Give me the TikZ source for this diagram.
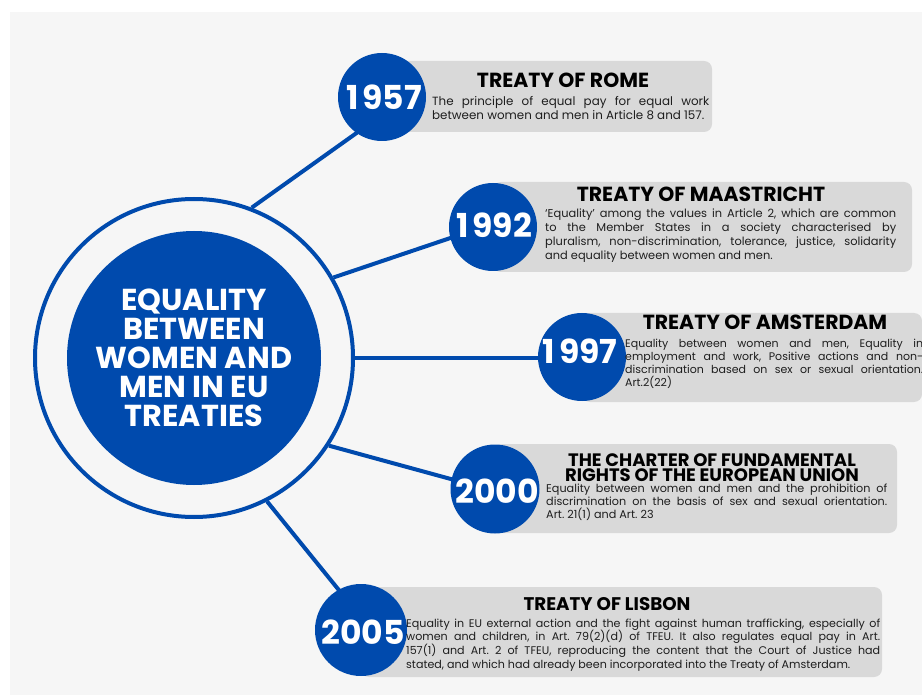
\documentclass[tikz,border=0pt]{standalone}
\usepackage{fontspec}
\setmainfont{Poppins}
\definecolor{eublue}{HTML}{004AAD}
\definecolor{panelgray}{HTML}{D9D9D9}
\definecolor{pagebg}{HTML}{F6F6F6}
\definecolor{bodyink}{HTML}{1E1E1E}
% one justified line of a fixed-width paragraph
\newcommand{\justline}[1]{\makebox[\linewidth][s]{#1}\\}
% a digit one set as wide as the other figures
\newcommand{\wideone}{\makebox[0.62em][c]{1}}
\frenchspacing
\begin{document}
\begin{tikzpicture}[x=1pt,y=-1pt,
  conn/.style={draw=eublue, line width=4pt},
  yearc/.style={circle, fill=eublue, minimum size=88pt, inner sep=0pt},
  yeartxt/.style={text=white, font=\bfseries\fontsize{33}{33}\selectfont, inner sep=0pt},
  panel/.style={fill=panelgray, rounded corners=8pt},
  ttl/.style={font=\bfseries\fontsize{20.4}{15}\selectfont, inner sep=0pt, anchor=base, text=black},
  body/.style={inner sep=0pt, anchor=base west, text=bodyink}]
\useasboundingbox (0,0) rectangle (922,695);
\clip (0,0) rectangle (922,695);
\fill[pagebg] (10,12) rectangle (922,695);

% hub: ring and filled core
\node[circle, draw=eublue, line width=4pt, minimum size=318pt] (ring) at (194,358) {};

% hidden end points of the spokes, inside the year discs
\coordinate (t1) at (372,122);
\coordinate (t2) at (480,228);
\coordinate (t3) at (582,358);
\coordinate (t4) at (480,487);
\coordinate (t5) at (355,610);

\draw[conn] (ring.69.7) -- (t1);
\draw[conn] (ring.30.4) -- (t2);
\draw[conn] (ring.0) -- (t3);
\draw[conn] (ring.-33.2) -- (t4);
\draw[conn] (ring.-63.1) -- (t5);

\node[circle, fill=eublue, minimum size=254pt, inner sep=0pt, align=center,
      text=white, font=\bfseries\fontsize{30.3}{29}\selectfont] (core) at (194,358)
  {EQUALITY\\BETWEEN\\WOMEN AND\\MEN IN EU\\TREATIES};

% panels
\fill[panel] (382,61) rectangle (712,132);
\fill[panel] (493,182) rectangle (912,272);
\fill[panel] (582,313) rectangle (922,402);
\fill[panel] (495,444) rectangle (897,533);
\fill[panel] (361,587) rectangle (882,677);

% year discs
\node[yearc] (c1) at (382,97) {};
\node[yearc] (c2) at (493,227) {};
\node[yearc] (c3) at (582,357) {};
\node[yearc, minimum size=89pt] (c4) at (495,489) {};
\node[yearc, minimum size=92pt] (c5) at (361,630) {};

\node[yeartxt] (y1) at (382,97) {\wideone957};
\node[yeartxt] (y2) at (492,225) {\wideone992};
\node[yeartxt] (y3) at (578,351) {\wideone997};
\node[yeartxt] (y4) at (497,491) {2000};
\node[yeartxt] (y5) at (363,632) {2005};

% headings
\node[ttl] (h1) at (563,88) {TREATY OF ROME};
\node[ttl] (h2) at (701,202) {TREATY OF MAASTRICHT};
\node[ttl] (h3) at (765,330) {TREATY OF AMSTERDAM};
\node[ttl, font=\bfseries\fontsize{18}{15}\selectfont] (h4) at (712,466)
  {\parbox[t]{330pt}{\centering THE CHARTER OF FUNDAMENTAL\\RIGHTS OF THE EUROPEAN UNION}};
\node[ttl, font=\bfseries\fontsize{18.3}{15}\selectfont] (h5) at (607,610) {TREATY OF LISBON};

% descriptions
\node[body] (b1) at (432,106) {\parbox[t]{277pt}{\fontsize{11.9}{13.5}\selectfont
  \justline{The principle of equal pay for equal work}
  between women and men in Article 8 and 157.}};
\node[body] (b2) at (545,218) {\parbox[t]{351pt}{\fontsize{11.4}{14}\selectfont
  \justline{‘Equality’ among the values in Article 2, which are common}
  \justline{to the Member States in a society characterised by}
  \justline{pluralism, non-discrimination, tolerance, justice, solidarity}
  and equality between women and men.}};
\node[body] (b3) at (625,348) {\parbox[t]{298pt}{\fontsize{11}{13}\selectfont
  \justline{Equality between women and men, Equality in}
  \justline{employment and work, Positive actions and non-}
  \justline{discrimination based on sex or sexual orientation.}
  Art.2(22)}};
\node[body] (b4) at (546,492) {\parbox[t]{341pt}{\fontsize{11.2}{13}\selectfont
  \justline{Equality between women and men and the prohibition of}
  \justline{discrimination on the basis of sex and sexual orientation.}
  Art. 21(1) and Art. 23}};
\node[body] (b5) at (406,627) {\parbox[t]{474pt}{\fontsize{11.1}{13.7}\selectfont
  \justline{Equality in EU external action and the fight against human trafficking, especially of}
  \justline{women and children, in Art. 79(2)(d) of TFEU. It also regulates equal pay in Art.}
  \justline{157(1) and Art. 2 of TFEU, reproducing the content that the Court of Justice had}
  stated, and which had already been incorporated into the Treaty of Amsterdam.}};
\end{tikzpicture}
\end{document}
